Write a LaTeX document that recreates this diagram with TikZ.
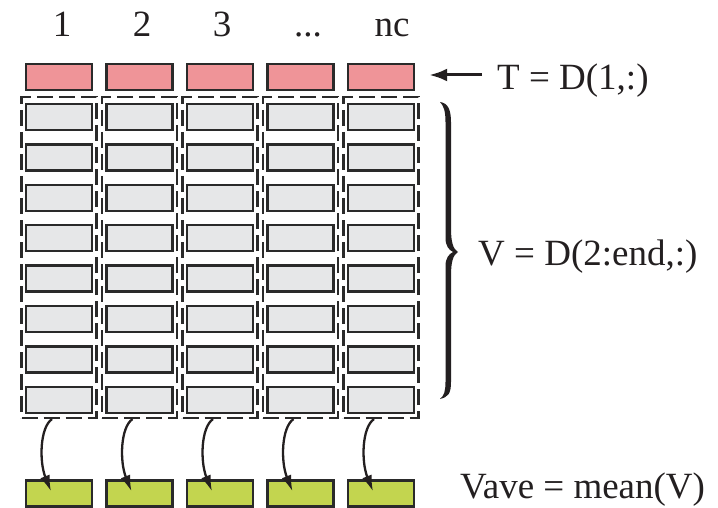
\documentclass[tikz,border=0pt]{standalone}
\usepackage{fontspec}
\setmainfont{Liberation Serif}
\usetikzlibrary{arrows.meta}

\definecolor{edgegray}{HTML}{2A2A2A}
\definecolor{ink}{HTML}{231F20}
\definecolor{cellred}{HTML}{EF9498}
\definecolor{cellgray}{HTML}{E6E7E8}
\definecolor{cellgreen}{HTML}{C3D54F}

\tikzset{
  cell/.style={draw=edgegray, line width=2.4pt, minimum width=66pt, minimum height=26pt, inner sep=0pt},
  headcell/.style={cell, fill=cellred},
  datacell/.style={cell, fill=cellgray},
  meancell/.style={cell, fill=cellgreen},
  column/.style={draw=edgegray, line width=2.2pt, dash pattern=on 16pt off 6pt,
    minimum width=75pt, minimum height=321pt, inner sep=0pt},
  lbl/.style={text=ink, inner sep=0pt, font=\fontsize{37}{40}\selectfont},
  meanarrow/.style={draw=ink, line width=2.3pt, -{Latex[length=16pt,width=10pt]}},
  headarrow/.style={draw=ink, line width=3pt, -{Latex[length=18pt,width=13pt]}},
}

\begin{document}
\begin{tikzpicture}[x=1pt, y=-1pt]
  \useasboundingbox (0,0) rectangle (718,508);

  % column headings
  \node[lbl, anchor=base] (h1) at (62,37) {1};
  \node[lbl, anchor=base] (h2) at (142,37) {2};
  \node[lbl, anchor=base] (h3) at (222,37) {3};
  \node[lbl, anchor=base] (h4) at (308,37) {...};
  \node[lbl, anchor=base] (h5) at (392,37) {nc};

  % columns: header cell, dashed group of data cells, mean cell
  \foreach \j in {1,...,5} {
    \pgfmathsetmacro{\cx}{59+80.5*(\j-1)}
    \node[headcell] (r\j) at (\cx,77) {};
    \node[column] (d\j) at (\cx,257.5) {};
    \foreach \i in {0,...,7} {
      \node[datacell] (v\j-\i) at (\cx,{117+40.4*\i}) {};
    }
    \node[meancell] (g\j) at (\cx,493.5) {};
    \draw[meanarrow] ([xshift=-7pt]d\j.south)
      .. controls +(-12,8) and +(-12,-30) .. ([xshift=-8pt,yshift=-12pt]g\j.north);
  }

  % row label for the header cells
  \node[lbl, anchor=base west] (tlab) at (497,90) {T = D(1,:)};
  \coordinate (tstart) at (482,75);
  \draw[headarrow] (tstart) -- ([xshift=14pt,yshift=2pt]r5.east);

  % brace over the data rows
  \fill[ink]
    (440,102) .. controls (448,103) and (451,110) .. (451,122)
    -- (451,228) .. controls (451,242) and (453,249) .. (458,252)
    .. controls (453,255) and (451,262) .. (451,276)
    -- (451,382) .. controls (451,394) and (448,397) .. (440,399)
    .. controls (444,396) and (445.5,391) .. (445.5,382)
    -- (445.5,266) .. controls (445.5,258) and (449,254) .. (453,252)
    .. controls (449,250) and (445.5,246) .. (445.5,238)
    -- (445.5,122) .. controls (445.5,112) and (444,106) .. (440,102) -- cycle;
  \node[lbl, anchor=base west] (vlab) at (478,265) {V = D(2:end,:)};

  % label for the mean row
  \node[lbl, anchor=base west] (mlab) at (460,498) {Vave = mean(V)};
\end{tikzpicture}
\end{document}
